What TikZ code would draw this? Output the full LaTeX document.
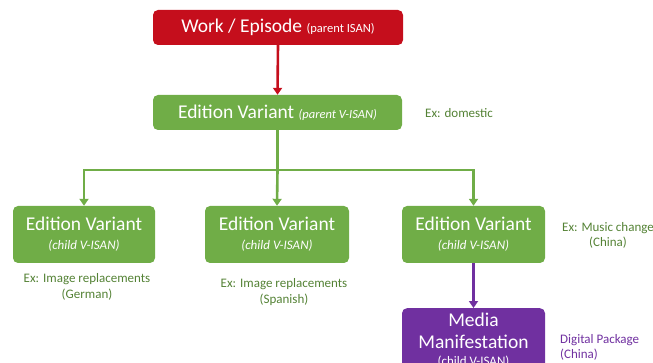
\documentclass[tikz,border=0pt]{standalone}
\usepackage{fontspec}
\setmainfont{Carlito}
\definecolor{isanred}{RGB}{197,14,28}
\definecolor{isangreen}{RGB}{112,173,71}
\definecolor{isandkgreen}{RGB}{84,130,53}
\definecolor{isanpurple}{RGB}{112,48,160}
\usetikzlibrary{arrows.meta}

\tikzset{
  box/.style={rounded corners=5pt, text=white, align=center, inner sep=2pt,
    font=\fontsize{19.5}{22}\selectfont},
  lbl/.style={text=isandkgreen, align=center, inner sep=0pt,
    font=\fontsize{13}{15.5}\selectfont},
  link/.style={line width=2.6pt, -{Triangle[length=7pt,width=9pt]}}
}
\newcommand{\subtxt}[1]{{\fontsize{12.5}{15}\selectfont #1}}
\newcommand{\childtxt}[1]{{\fontsize{13}{15}\selectfont\itshape #1}}

\begin{document}
\begin{tikzpicture}[x=1pt,y=-1pt]
\useasboundingbox (0,0) rectangle (653,363);
\clip (0,0) rectangle (653,363);

% Work and parent edition
\node[box, fill=isanred, minimum width=250pt, minimum height=35pt] (work) at (278,27.5)
  {Work / Episode \subtxt{(parent ISAN)}};
\node[box, fill=isangreen, minimum width=249pt, minimum height=35pt] (ev) at (277.5,112.5)
  {Edition Variant \subtxt{\itshape (parent V-ISAN)}};
\node[lbl, anchor=west] (evlbl) at (425,113) {Ex: domestic};

% Child editions
\node[box, fill=isangreen, minimum width=142pt, minimum height=57pt] (evde) at (84,234.5)
  {Edition Variant\\[-3pt]\childtxt{(child V-ISAN)}};
\node[box, fill=isangreen, minimum width=144pt, minimum height=57pt] (eves) at (277,234.5)
  {Edition Variant\\[-3pt]\childtxt{(child V-ISAN)}};
\node[box, fill=isangreen, minimum width=143pt, minimum height=57pt] (evcn) at (473.5,234.5)
  {Edition Variant\\[-3pt]\childtxt{(child V-ISAN)}};

\node[lbl] (delbl) at (87,287) {Ex: Image replacements\\(German)};
\node[lbl] (eslbl) at (284,292) {Ex: Image replacements\\(Spanish)};
\node[lbl] (cnlbl) at (608,235.5) {Ex: Music change\\(China)};

% Media manifestation
\node[box, fill=isanpurple, minimum width=143pt, minimum height=64pt, anchor=north] (media) at (473.5,308)
  {Media\\Manifestation\\[-5pt]\childtxt{\upshape (child V-ISAN)}};
\node[lbl, text=isanpurple, align=left, anchor=west] (mlbl) at (560,347.5) {Digital Package\\(China)};

% Connectors
\draw[link, isanred] (work.south) -- (ev.north);
\draw[line width=2.6pt, isangreen] (ev.south) -- ++(0,40) coordinate (split);
\draw[link, isangreen] (split) -| (evde.north);
\draw[link, isangreen] (split) -- (eves.north);
\draw[link, isangreen] (split) -| (evcn.north);
\draw[link, isanpurple] (evcn.south) -- (media.north);
\end{tikzpicture}
\end{document}
